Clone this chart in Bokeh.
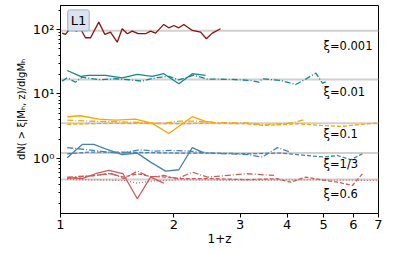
from bokeh.plotting import figure
from bokeh.models import FixedTicker, Span, Label
from bokeh.embed import file_html
from bokeh.resources import INLINE

# ---- data (1+z, dN/dlgMh) ----
x_001_solid = [1.01, 1.031, 1.070, 1.101, 1.130, 1.165, 1.202, 1.264, 1.312, 1.358, 1.415, 1.459, 1.505, 1.551,
               1.609, 1.683, 1.735, 1.789, 1.881, 1.940, 2.0, 2.063, 2.127, 2.241, 2.357, 2.441, 2.532, 2.663]
y_001_solid = [87.7, 83.6, 111, 94, 102.5, 74.3, 74.3, 129.8, 83.6, 90.8, 63.5, 102.5, 85.8, 94,
               85.8, 85.8, 94, 87.7, 119.6, 106, 115, 106, 119.6, 96.5, 90.8, 71.8, 87.7, 102.5]

x_01_solid = [1.042, 1.130, 1.189, 1.317, 1.459, 1.600, 1.753, 1.882, 2.063, 2.240, 2.43]
y_01_solid = [23.1, 18.7, 19.4, 19.4, 17.8, 20.1, 18.7, 20.6, 14.4, 20.6, 19.4]
x_01_dashdot = [1.010, 1.042, 1.096, 1.142, 1.264, 1.400, 1.519, 1.649, 1.789, 1.941, 2.063, 2.258, 2.456,
                2.832, 3.201, 3.368, 3.439, 3.656, 3.847, 4.217, 4.483, 4.77, 4.966, 5.122]
y_01_dashdot = [15.8, 17.8, 15.2, 18.2, 16.6, 17.2, 16.6, 15.8, 17.8, 18.7, 16.5, 19.5, 17.0,
                16.8, 16.2, 15.2, 17.2, 16.6, 16.2, 14.0, 17.0, 21.0, 14.7, 15.8]

x_1_solid = [1.042, 1.130, 1.264, 1.400, 1.583, 1.753, 1.941, 2.240, 2.43, 2.584]
y_1_solid = [4.43, 4.59, 4.07, 3.93, 4.07, 3.49, 2.44, 4.43, 3.75, 3.6]
x_1_dashdot = [1.042, 1.189, 1.400, 1.649, 1.864, 2.063, 2.286, 2.553, 3.137, 3.473, 4.09, 4.437]
y_1_dashdot = [3.93, 3.79, 3.71, 3.61, 3.49, 3.79, 3.79, 3.6, 3.55, 3.3, 3.55, 3.98]
x_1_dashed = [1.042, 1.264, 1.615, 2.085, 2.506, 3.137, 3.473, 4.262, 4.914, 5.556, 6.28, 6.955]
y_1_dashed = [3.37, 3.49, 3.49, 3.45, 3.53, 3.45, 3.25, 3.45, 3.25, 3.13, 3.37, 3.53]

x_13_solid = [1.042, 1.142, 1.226, 1.317, 1.459, 1.600, 1.735, 1.902, 2.063, 2.240, 2.381]
y_13_solid = [1.025, 1.65, 1.65, 1.41, 1.15, 1.21, 0.877, 0.636, 0.668, 1.47, 1.25]
x_13_dashdot = [1.042, 1.189, 1.344, 1.459, 1.615, 1.789, 1.982, 2.194, 2.553, 3.137, 3.439, 3.770, 4.09]
y_13_dashdot = [1.47, 1.36, 1.25, 1.21, 1.36, 1.30, 1.33, 1.30, 1.20, 1.15, 1.05, 1.47, 1.25]
x_13_dashed = [1.042, 1.189, 1.459, 2.085, 2.553, 3.137, 3.847, 5.015, 5.443, 5.906, 6.346]
y_13_dashed = [1.18, 1.25, 1.25, 1.21, 1.21, 1.18, 1.21, 1.05, 1.11, 0.955, 1.18]

x_6_solid = [1.042, 1.142, 1.239, 1.344, 1.466, 1.600, 1.735, 1.882]
y_6_solid = [0.502, 0.485, 0.579, 0.652, 0.579, 0.237, 0.513, 0.414]
x_6_dashdot = [1.042, 1.252, 1.358, 1.474, 1.600, 1.735, 1.882, 2.044, 2.240, 2.456, 3.137, 3.692]
y_6_dashdot = [0.513, 0.545, 0.592, 0.485, 0.636, 0.513, 0.545, 0.485, 0.613, 0.513, 0.579, 0.545]
x_6_dashed = [1.042, 1.358, 1.474, 1.600, 1.735, 1.922, 2.085, 2.553, 3.137, 3.770, 4.09, 4.483, 4.914,
              5.443, 5.968, 6.346]
y_6_dashed = [0.49, 0.579, 0.513, 0.579, 0.526, 0.513, 0.485, 0.485, 0.468, 0.485, 0.429, 0.513, 0.468,
              0.429, 0.381, 0.579]
x_6_dotted = [1.042, 1.474, 1.600, 1.735, 1.882, 2.085, 3.0, 4.5, 6.0, 6.955]
y_6_dotted = [0.473, 0.456, 0.414, 0.445, 0.456, 0.468, 0.46, 0.465, 0.46, 0.456]

xi_labels = ["ξ=0.001", "ξ=0.01", "ξ=0.1", "ξ=1/3", "ξ=0.6"]
ref_values = [95, 16.8, 3.5, 1.21, 0.473]
label_y = [55, 10.7, 2.36, 0.83, 0.285]
x_ticks = [1, 2, 3, 4, 5, 6, 7]
y_ticks = [1, 10, 100]
y_tick_labels = ["10⁰", "10¹", "10²"]

FONT = "DejaVu Sans"

p = figure(frame_width=318, frame_height=208, x_axis_type="log", y_axis_type="log",
           x_range=(1, 7), y_range=(0.140, 235),
           output_backend="svg", toolbar_location=None,
           min_border_left=60, min_border_right=12, min_border_top=5, min_border_bottom=30)
p.xgrid.visible = False
p.ygrid.visible = False
p.outline_line_color = "black"
p.outline_line_width = 1
p.background_fill_color = "white"

for v in ref_values:
    p.add_layout(Span(location=v, dimension="width", line_color="#d0d0d0", line_width=2, level="underlay"))

LW = 1.3
DASH = "4 2"
DASHDOT = "6 2 1 2"
DOT = "1 2"
p.line(x_001_solid, y_001_solid, line_color="#8b1010", line_width=LW)
p.line(x_01_solid, y_01_solid, line_color="#11898a", line_width=LW)
p.line(x_01_dashdot, y_01_dashdot, line_color="#11898a", line_width=LW, line_dash=DASHDOT)
p.line(x_1_solid, y_1_solid, line_color="#ffa500", line_width=LW)
p.line(x_1_dashdot, y_1_dashdot, line_color="#ffa500", line_width=LW, line_dash=DASHDOT)
p.line(x_1_dashed, y_1_dashed, line_color="#ffa500", line_width=LW, line_dash=DASH)
p.line(x_13_solid, y_13_solid, line_color="#4682b4", line_width=LW)
p.line(x_13_dashdot, y_13_dashdot, line_color="#4682b4", line_width=LW, line_dash=DASHDOT)
p.line(x_13_dashed, y_13_dashed, line_color="#4682b4", line_width=LW, line_dash=DASH)
p.line(x_6_solid, y_6_solid, line_color="#cd5c5c", line_width=LW)
p.line(x_6_dashdot, y_6_dashdot, line_color="#cd5c5c", line_width=LW, line_dash=DASHDOT)
p.line(x_6_dashed, y_6_dashed, line_color="#cd5c5c", line_width=LW, line_dash=DASH)
p.line(x_6_dotted, y_6_dotted, line_color="#cd5c5c", line_width=LW, line_dash=DOT)

for t, yy in zip(xi_labels, label_y):
    p.add_layout(Label(x=5.0, y=yy, text=t, text_font=FONT, text_font_size="11.5px",
                       text_color="black", text_baseline="middle", text_align="left"))

p.add_layout(Label(x=1.045, y=138, text="L1", text_font=FONT, text_font_size="13px",
                   text_color="black", text_baseline="middle", text_align="left",
                   background_fill_color="#dbe3ee", border_line_color="#9fb0c6",
                   padding=3, border_radius=2))

# axes
p.xaxis.ticker = FixedTicker(ticks=x_ticks, minor_ticks=[])
p.xaxis.major_label_overrides = {t: str(t) for t in x_ticks}
p.yaxis.ticker = FixedTicker(ticks=y_ticks,
                             minor_ticks=[0.2, 0.3, 0.4, 0.5, 0.6, 0.7, 0.8, 0.9,
                                          2, 3, 4, 5, 6, 7, 8, 9,
                                          20, 30, 40, 50, 60, 70, 80, 90, 200])
p.yaxis.major_label_overrides = {t: l for t, l in zip(y_ticks, y_tick_labels)}

for ax in (p.xaxis[0], p.yaxis[0]):
    ax.axis_line_color = "black"
    ax.major_tick_line_color = "black"
    ax.minor_tick_line_color = "black"
    ax.major_tick_in = 0
    ax.major_tick_out = 4
    ax.minor_tick_in = 0
    ax.minor_tick_out = 2
    ax.major_label_text_font = FONT
    ax.major_label_text_font_size = "13px"
    ax.major_label_text_color = "black"
    ax.axis_label_text_font = FONT
    ax.axis_label_text_font_style = "normal"
    ax.axis_label_text_color = "black"
    ax.major_label_standoff = 2

p.xaxis.axis_label = "1+z"
p.xaxis.axis_label_text_font_size = "12px"
p.xaxis.axis_label_standoff = 0
p.yaxis.axis_label = "dN( > ξ|Mₕ, z)/dlgMₕ"
p.yaxis.axis_label_text_font_size = "10px"
p.yaxis.axis_label_standoff = 3

open("out.html", "w").write(file_html(p, INLINE))
